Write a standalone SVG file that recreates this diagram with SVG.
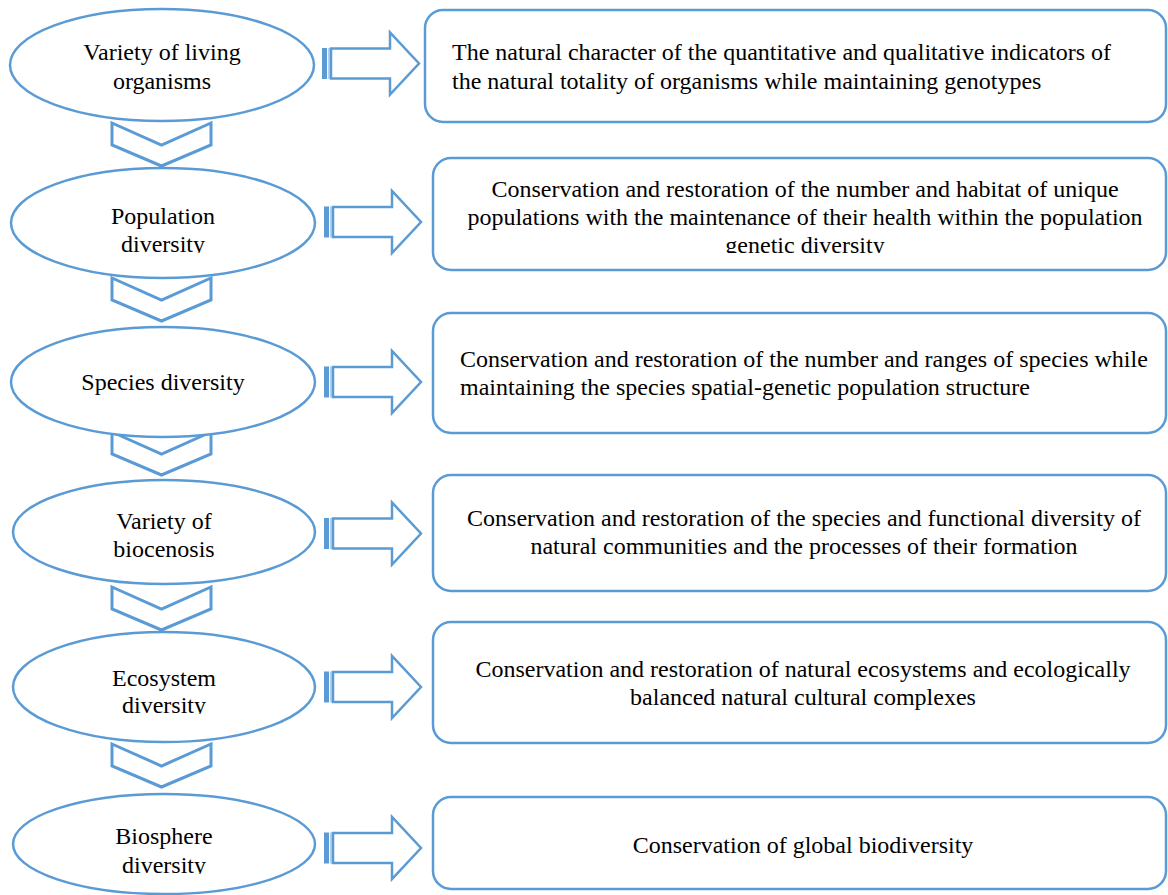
<svg xmlns="http://www.w3.org/2000/svg" xmlns:xlink="http://www.w3.org/1999/xlink" width="1168" height="895" viewBox="0 0 1168 895" font-family="'Liberation Serif', 'Times New Roman', Times, serif">
<style>
.sh{fill:#fff;stroke:#5B9BD5;stroke-width:2.5}
.ch{fill:none;stroke:#5B9BD5;stroke-width:3;stroke-linejoin:miter}
text{font-family:'Liberation Serif','Times New Roman',Times,serif;font-size:24px;fill:#000}
.c{text-anchor:middle}
</style>
<defs>
<g id="arr">
<rect x="324" y="-15.5" width="5" height="31" fill="#5B9BD5"/>
<line x1="331" y1="-15.5" x2="331" y2="15.5" stroke="#9DC3E6" stroke-width="1.5"/>
<polygon points="333,-15 392,-15 392,-31 421,0 392,31 392,15 333,15" fill="#fff" stroke="#5B9BD5" stroke-width="2.5" stroke-linejoin="miter"/>
</g>
<polygon id="chev" points="112,0 161.5,22 211,0 211,22 161.5,43 112,22" class="ch"/>
<clipPath id="cl2"><rect x="0" y="150" width="1168" height="103"/></clipPath>
<clipPath id="cl5"><rect x="0" y="600" width="1168" height="114"/></clipPath>
<clipPath id="cl6"><rect x="0" y="790" width="1168" height="84"/></clipPath>
</defs>

<g id="connectors">
<use xlink:href="#chev" y="123"/>
<use xlink:href="#chev" y="278"/>
<use xlink:href="#chev" y="432"/>
<use xlink:href="#chev" y="587"/>
<use xlink:href="#chev" y="744"/>
<use xlink:href="#arr" x="-2" y="63.5"/>
<use xlink:href="#arr" y="222"/>
<use xlink:href="#arr" y="382"/>
<use xlink:href="#arr" y="533.5"/>
<use xlink:href="#arr" y="687"/>
<use xlink:href="#arr" y="848"/>
</g>

<g id="n1">
<ellipse class="sh" cx="162" cy="65" rx="152" ry="56"/>
<text class="c" x="162" y="60">Variety of living</text>
<text class="c" x="162" y="89">organisms</text>
</g>
<g id="n2">
<ellipse class="sh" cx="163" cy="223" rx="152" ry="55"/>
<g clip-path="url(#cl2)">
<text class="c" x="163" y="224">Population</text>
<text class="c" x="163" y="252">diversity</text>
</g>
</g>
<g id="n3">
<ellipse class="sh" cx="163" cy="382" rx="152" ry="55"/>
<text class="c" x="163" y="390">Species diversity</text>
</g>
<g id="n4">
<ellipse class="sh" cx="164" cy="532" rx="151" ry="52"/>
<text class="c" x="164" y="529">Variety of</text>
<text class="c" x="164" y="557">biocenosis</text>
</g>
<g id="n5">
<ellipse class="sh" cx="164" cy="687" rx="151" ry="55"/>
<g clip-path="url(#cl5)">
<text class="c" x="164" y="686">Ecosystem</text>
<text class="c" x="164" y="713">diversity</text>
</g>
</g>
<g id="n6">
<ellipse class="sh" cx="164" cy="844" rx="151" ry="50"/>
<g clip-path="url(#cl6)">
<text class="c" x="164" y="844">Biosphere</text>
<text class="c" x="164" y="873">diversity</text>
</g>
</g>

<g id="b1">
<rect class="sh" x="425" y="10" width="741" height="112" rx="18"/>
<text x="452" y="60">The natural character of the quantitative and qualitative indicators of</text>
<text x="452" y="89">the natural totality of organisms while maintaining genotypes</text>
</g>
<g id="b2">
<rect class="sh" x="433" y="158" width="733" height="112" rx="18"/>
<g clip-path="url(#cl2)">
<text class="c" x="805" y="197">Conservation and restoration of the number and habitat of unique</text>
<text class="c" x="805" y="225">populations with the maintenance of their health within the population</text>
<text class="c" x="805" y="253">genetic diversity</text>
</g>
</g>
<g id="b3">
<rect class="sh" x="433" y="313" width="733" height="120" rx="18"/>
<text x="460" y="367">Conservation and restoration of the number and ranges of species while</text>
<text x="460" y="395">maintaining the species spatial-genetic population structure</text>
</g>
<g id="b4">
<rect class="sh" x="433" y="475" width="733" height="116" rx="18"/>
<text class="c" x="804" y="526">Conservation and restoration of the species and functional diversity of</text>
<text class="c" x="804" y="554">natural communities and the processes of their formation</text>
</g>
<g id="b5">
<rect class="sh" x="433" y="622" width="733" height="121" rx="18"/>
<text class="c" x="803" y="677">Conservation and restoration of natural ecosystems and ecologically</text>
<text class="c" x="803" y="705">balanced natural cultural complexes</text>
</g>
<g id="b6">
<rect class="sh" x="433" y="797" width="733" height="92" rx="18"/>
<text class="c" x="803" y="853">Conservation of global biodiversity</text>
</g>
</svg>
